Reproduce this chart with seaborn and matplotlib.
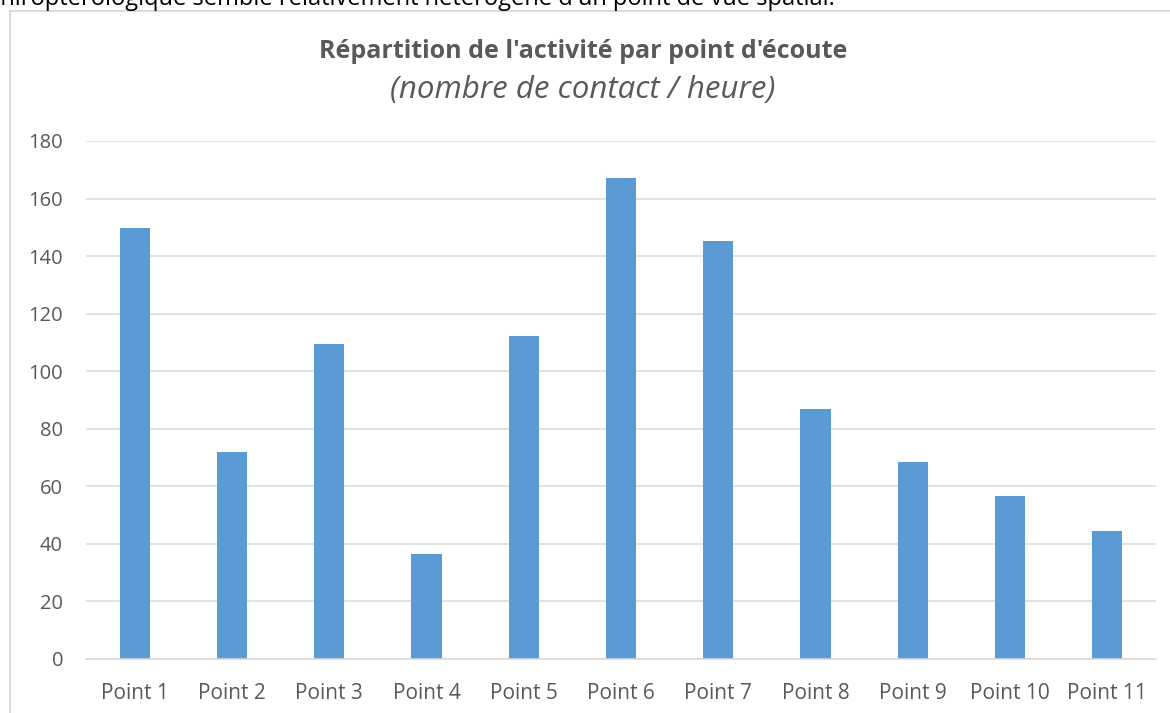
import matplotlib
matplotlib.use("Agg")
import matplotlib.pyplot as plt
import seaborn as sns
import pandas as pd
from matplotlib.lines import Line2D

categories = ["Point 1", "Point 2", "Point 3", "Point 4", "Point 5", "Point 6",
              "Point 7", "Point 8", "Point 9", "Point 10", "Point 11"]
values = [149.6, 71.8, 109.6, 36.5, 112.4, 167.0, 145.4, 86.7, 68.3, 56.8, 44.6]
yticks = [0, 20, 40, 60, 80, 100, 120, 140, 160, 180]

title = "Répartition de l'activité par point d'écoute"
subtitle = "(nombre de contact / heure)"
top_text = "chiroptérologique semble relativement hétérogène d'un point de vue spatial."

sns.set_theme(style="white")
plt.rcParams['font.family'] = ['Open Sans', 'DejaVu Sans']

W, H = 1170, 713
fig = plt.figure(figsize=(W / 100, H / 100), dpi=100)
fig.patch.set_facecolor("white")

ax = fig.add_axes([86 / W, 1 - 659 / H, (1156 - 86) / W, (659 - 141) / H])
df = pd.DataFrame({"cat": categories, "val": values})
sns.barplot(data=df, x="cat", y="val", ax=ax, color="#5B9BD5", width=0.31,
            saturation=1, edgecolor="#5B9BD5", linewidth=0)

ax.set_ylim(0, 180)
ax.set_xlim(-0.5, len(categories) - 0.5)
ax.set_yticks(yticks)
ax.set_yticklabels([str(v) for v in yticks])
ax.yaxis.grid(True, color="#D9D9D9", linewidth=1.1)
ax.set_axisbelow(True)
for s in ["top", "right", "left"]:
    ax.spines[s].set_visible(False)
ax.spines["bottom"].set_color("#D9D9D9")
ax.spines["bottom"].set_linewidth(1.1)
ax.set_xlabel("")
ax.set_ylabel("")
ax.tick_params(axis="y", length=0, labelsize=14.5, colors="#595959", pad=16.5)
ax.tick_params(axis="x", length=0, labelsize=15, colors="#595959", pad=17.5)

# chart border (partially visible)
fig.add_artist(Line2D([10 / W, 10 / W], [0, 1 - 11 / H], color="#D9D9D9", linewidth=1.3,
                      transform=fig.transFigure))
fig.add_artist(Line2D([10 / W, 1], [1 - 11 / H, 1 - 11 / H], color="#D9D9D9", linewidth=1.3,
                      transform=fig.transFigure))

fig.text(583 / W, 1 - 51 / H, title, ha="center", va="center", fontsize=18,
         fontweight="bold", color="#595959")
fig.text(583 / W, 1 - 90 / H, subtitle, ha="center", va="center", fontsize=22.5,
         fontstyle="italic", color="#595959")
fig.text(-11 / W, 1 - 5 / H, top_text, ha="left", va="baseline", fontsize=17,
         color="black")

fig.savefig("out.png", dpi=100)
